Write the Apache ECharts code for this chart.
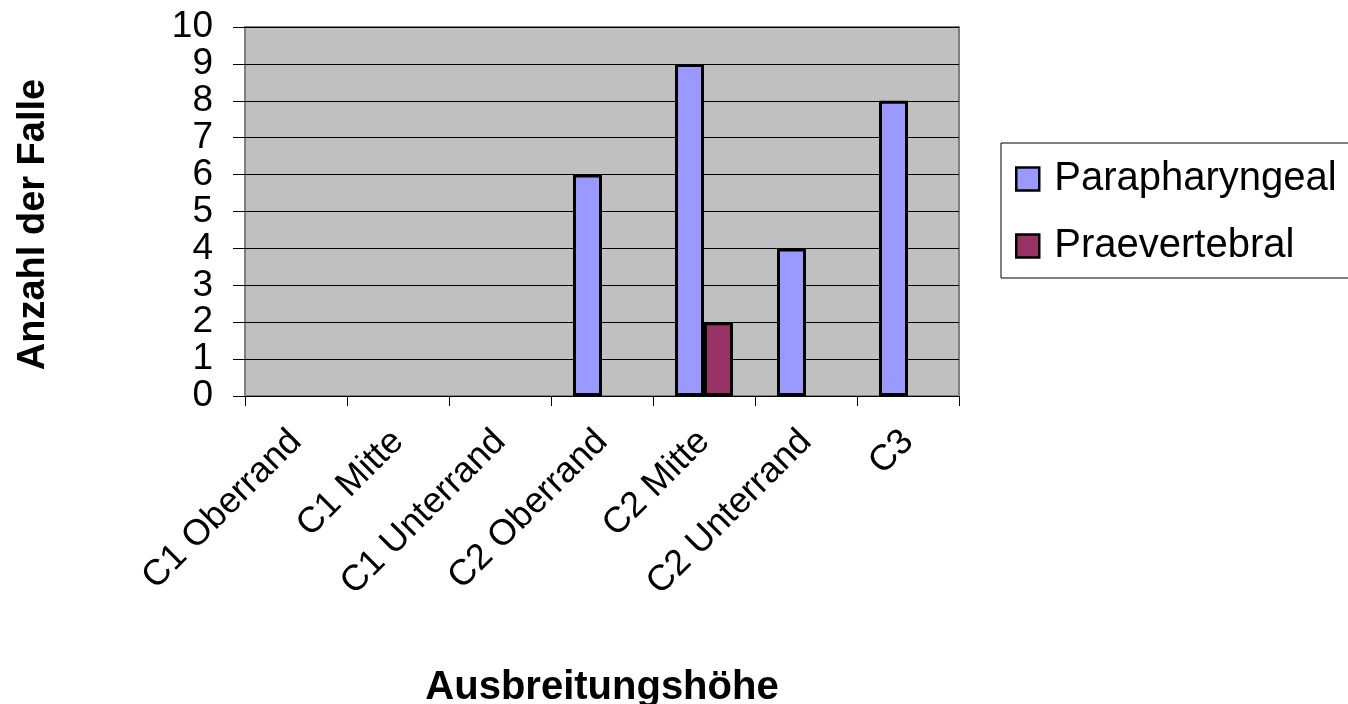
<!DOCTYPE html>
<html>
<head>
<meta charset="utf-8">
<script src="https://cdn.jsdelivr.net/npm/echarts@6/dist/echarts.min.js"></script>
<style>html,body{margin:0;padding:0;background:#fff;}#chart{width:1348px;height:704px;}</style>
</head>
<body>
<div id="chart"></div>
<script>
const categories = ['C1 Oberrand', 'C1 Mitte', 'C1 Unterrand', 'C2 Oberrand', 'C2 Mitte', 'C2 Unterrand', 'C3'];
// empty cells in the source sheet are null (no bar drawn)
const parapharyngeal = [null, null, null, 6, 9, 4, 8];
const praevertebral = [null, null, null, null, 2, null, null];
const seriesNames = ['Parapharyngeal', 'Praevertebral'];
const xTitle = 'Ausbreitungshöhe';
const yTitle = 'Anzahl der Falle';

const FONT = "'Liberation Sans', Arial, sans-serif";
const chart = echarts.init(document.getElementById('chart'));
chart.setOption({
  animation: false,
  backgroundColor: '#ffffff',
  textStyle: { fontFamily: FONT, color: '#000' },
  grid: {
    left: 245, right: 389, top: 27, bottom: 308,
    outerBoundsMode: 'none',
    containLabel: false,
    show: true, backgroundColor: '#C0C0C0', borderColor: '#808080', borderWidth: 2
  },
  legend: {
    orient: 'vertical',
    left: 1001, top: 143,
    data: seriesNames,
    itemWidth: 23, itemHeight: 23, itemGap: 23,
    icon: 'rect',
    backgroundColor: '#fff',
    borderColor: '#000', borderWidth: 1,
    padding: [14, 80, 10, 14],
    textStyle: { fontFamily: FONT, fontSize: 40, color: '#000', lineHeight: 44, padding: [0, 0, 0, 10] },
    itemStyle: { borderColor: '#000', borderWidth: 2.5 }
  },
  xAxis: {
    type: 'category',
    data: categories,
    name: xTitle,
    nameLocation: 'middle',
    nameGap: 272,
    nameTextStyle: { fontFamily: FONT, fontSize: 40, fontWeight: 'bold', color: '#000' },
    axisLine: { show: true, lineStyle: { color: '#000', width: 1 } },
    axisTick: { show: true, alignWithLabel: false, length: 10, lineStyle: { color: '#000' } },
    axisLabel: { rotate: 45, margin: 40, fontFamily: FONT, fontSize: 36, color: '#000', interval: 0 },
    splitLine: { show: false }
  },
  yAxis: {
    type: 'value',
    min: 0, max: 10, interval: 1,
    name: yTitle,
    nameLocation: 'middle',
    nameGap: 192,
    nameRotate: 90,
    nameTextStyle: { fontFamily: FONT, fontSize: 38, fontWeight: 'bold', color: '#000', padding: [0, 26, 0, 0] },
    axisLine: { show: false },
    axisTick: { show: true, length: 12, lineStyle: { color: '#000' } },
    axisLabel: { margin: 32, fontFamily: FONT, fontSize: 37, color: '#000', showMinLabel: true, showMaxLabel: true, hideOverlap: false },
    splitLine: { show: true, lineStyle: { color: '#000', width: 1 } }
  },
  series: [
    {
      name: seriesNames[0], type: 'bar', data: parapharyngeal,
      barWidth: 29, barGap: '0%',
      itemStyle: { color: '#9999FF', borderColor: '#000', borderWidth: 3 }
    },
    {
      name: seriesNames[1], type: 'bar', data: praevertebral,
      barWidth: 29, barGap: '0%',
      itemStyle: { color: '#993366', borderColor: '#000', borderWidth: 3 }
    }
  ]
});
</script>
</body>
</html>
